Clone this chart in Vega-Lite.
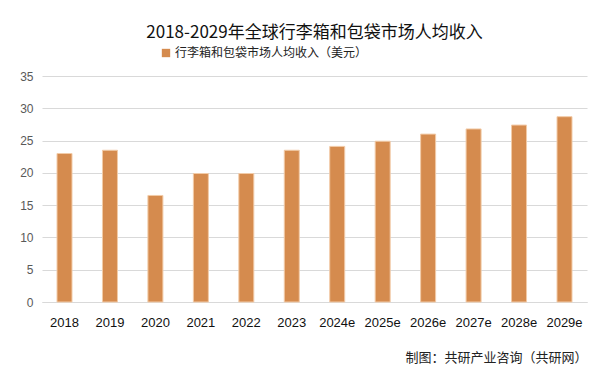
{
  "$schema": "https://vega.github.io/schema/vega-lite/v6.json",
  "autosize": {"type": "none"},
  "width": 545,
  "height": 226,
  "padding": {"left": 42, "top": 76, "right": 14, "bottom": 72},
  "background": "white",
  "title": {
    "text": "2018-2029年全球行李箱和包袋市场人均收入",
    "font": "Noto Sans CJK SC",
    "fontSize": 17,
    "fontWeight": "normal",
    "color": "#111111",
    "anchor": "middle",
    "offset": 5
  },
  "data": {
    "values": [
      {"year": "2018", "value": 23.0, "series": "行李箱和包袋市场人均收入（美元）"},
      {"year": "2019", "value": 23.5, "series": "行李箱和包袋市场人均收入（美元）"},
      {"year": "2020", "value": 16.5, "series": "行李箱和包袋市场人均收入（美元）"},
      {"year": "2021", "value": 19.9, "series": "行李箱和包袋市场人均收入（美元）"},
      {"year": "2022", "value": 19.9, "series": "行李箱和包袋市场人均收入（美元）"},
      {"year": "2023", "value": 23.5, "series": "行李箱和包袋市场人均收入（美元）"},
      {"year": "2024e", "value": 24.1, "series": "行李箱和包袋市场人均收入（美元）"},
      {"year": "2025e", "value": 24.9, "series": "行李箱和包袋市场人均收入（美元）"},
      {"year": "2026e", "value": 26.0, "series": "行李箱和包袋市场人均收入（美元）"},
      {"year": "2027e", "value": 26.8, "series": "行李箱和包袋市场人均收入（美元）"},
      {"year": "2028e", "value": 27.4, "series": "行李箱和包袋市场人均收入（美元）"},
      {"year": "2029e", "value": 28.7, "series": "行李箱和包袋市场人均收入（美元）"}
    ]
  },
  "mark": {"type": "bar", "stroke": "#F2CBA8", "strokeWidth": 1},
  "encoding": {
    "x": {
      "field": "year",
      "type": "ordinal",
      "sort": null,
      "scale": {"paddingInner": 0.67, "paddingOuter": 0.33},
      "axis": {
        "title": "制图：共研产业咨询（共研网）",
        "titleAnchor": "end",
        "titleAlign": "right",
        "titleFont": "Noto Sans CJK SC",
        "titleFontSize": 13,
        "titleFontWeight": "normal",
        "titleColor": "#222222",
        "titlePadding": 22,
        "labelAngle": 0,
        "labelFont": "Liberation Sans",
        "labelFontSize": 13,
        "labelColor": "#111111",
        "labelPadding": 14,
        "ticks": false,
        "domainColor": "#D9D9D9",
        "grid": false
      }
    },
    "y": {
      "field": "value",
      "type": "quantitative",
      "scale": {"domain": [0, 35]},
      "axis": {
        "title": null,
        "values": [0, 5, 10, 15, 20, 25, 30, 35],
        "labelFont": "Liberation Sans",
        "labelFontSize": 12,
        "labelColor": "#595959",
        "labelPadding": 9,
        "ticks": false,
        "domain": false,
        "grid": true,
        "gridColor": "#D9D9D9"
      }
    },
    "color": {
      "field": "series",
      "type": "nominal",
      "scale": {"range": ["#D58B4E"]},
      "legend": {
        "title": null,
        "orient": "none",
        "legendX": 118,
        "legendY": -29,
        "symbolType": "square",
        "symbolSize": 70,
        "symbolStrokeWidth": 0,
        "labelFont": "Noto Sans CJK SC",
        "labelFontSize": 12,
        "labelColor": "#222222",
        "labelOffset": 3,
        "labelLimit": 400
      }
    }
  },
  "config": {"view": {"stroke": null}}
}
